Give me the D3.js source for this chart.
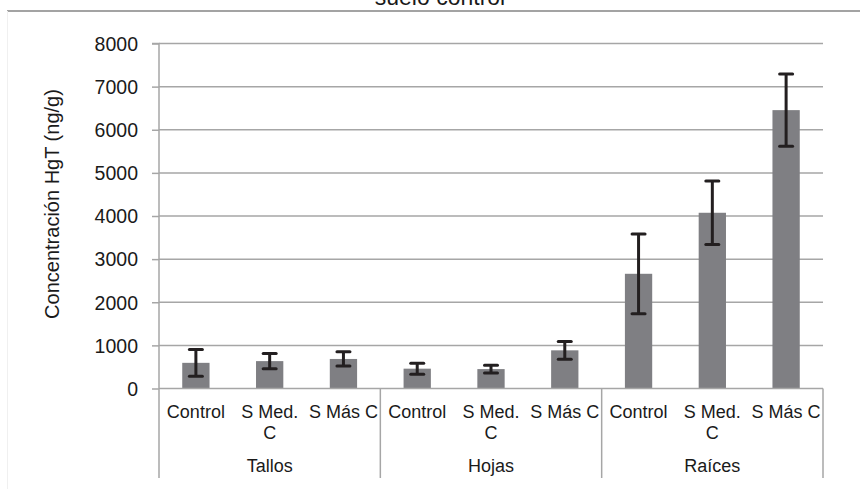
<!DOCTYPE html>
<html><head><meta charset="utf-8">
<script src="https://cdn.jsdelivr.net/npm/d3@7"></script>
<style>html,body{margin:0;padding:0;background:#fff;overflow:hidden}text{font-family:"Liberation Sans",Arial,sans-serif;fill:#1a1a1a}</style>
</head><body>
<svg id="c" width="860" height="489"></svg>
<script>
const title = "suelo control";
const yTitle = "Concentración HgT (ng/g)";
const groups = ["Tallos", "Hojas", "Raíces"];
const treatments = ["Control", "S Med. C", "S Más C"];
const tallosMean = [595, 635, 685];
const tallosErr = [310, 175, 165];
const hojasMean = [460, 450, 885];
const hojasErr = [128, 90, 205];
const raicesMean = [2660, 4075, 6455];
const raicesErr = [925, 735, 835];
const yTicks = [0, 1000, 2000, 3000, 4000, 5000, 6000, 7000, 8000];

const means = [tallosMean, hojasMean, raicesMean];
const errs = [tallosErr, hojasErr, raicesErr];
const data = [];
groups.forEach((g, gi) => treatments.forEach((t, ti) => data.push({key: g + "|" + t, group: g, treat: t, v: means[gi][ti], e: errs[gi][ti]})));

const svg = d3.select("#c");
const L = 159, R = 823, T = 43.5, B = 388.5;
const x = d3.scaleBand().domain(data.map(d => d.key)).range([L, R]).paddingInner(0.63).paddingOuter(0.315);
const xg = d3.scaleBand().domain(groups).range([L, R]);
const y = d3.scaleLinear().domain([0, 8000]).range([B, T]);

// chart border remnants
svg.append("line").attr("x1", 7).attr("x2", 860).attr("y1", 11).attr("y2", 11).attr("stroke", "#a3a3a3").attr("stroke-width", 2);
svg.append("line").attr("x1", 7.5).attr("x2", 7.5).attr("y1", 11).attr("y2", 489).attr("stroke", "#f0f0f0").attr("stroke-width", 1);
svg.append("text").attr("x", 440).attr("y", 4.5).attr("text-anchor", "middle").style("font-size", "23px").text(title);

// gridlines
svg.append("g").selectAll("line").data(yTicks.filter(d => d > 0)).join("line")
  .attr("x1", L).attr("x2", R).attr("y1", d => y(d)).attr("y2", d => y(d))
  .attr("stroke", "#a6a6a6").attr("stroke-width", 1.5);

// y axis
const ya = svg.append("g").attr("transform", `translate(${L},0)`)
  .call(d3.axisLeft(y).tickValues(yTicks).tickSize(7).tickPadding(14).tickFormat(d3.format("d")));
ya.select(".domain").attr("stroke", "#a6a6a6").attr("stroke-width", 1.5).attr("d", `M-7,${T}H0V${B}`);
ya.selectAll(".tick line").attr("stroke", "#a6a6a6").attr("stroke-width", 1.5);
ya.selectAll(".tick text").style("font-size", "19.5px").attr("fill", "#1a1a1a").attr("dy", "0.35em");

svg.append("text").attr("transform", `translate(52,204) rotate(-90)`).attr("text-anchor", "middle")
  .attr("dy", "0.35em").style("font-size", "20px").text(yTitle);

// bars
svg.append("g").selectAll("rect").data(data).join("rect")
  .attr("x", d => x(d.key)).attr("width", x.bandwidth())
  .attr("y", d => y(d.v)).attr("height", d => y(0) - y(d.v))
  .attr("fill", "#7f7f83");

// error bars
const eg = svg.append("g").attr("stroke", "#231f20").attr("stroke-width", 3);
data.forEach(d => {
  const cx = x(d.key) + x.bandwidth() / 2;
  eg.append("line").attr("x1", cx).attr("x2", cx).attr("y1", y(d.v + d.e)).attr("y2", y(d.v - d.e));
  [d.v + d.e, d.v - d.e].forEach(v => eg.append("line").attr("x1", cx - 6.5).attr("x2", cx + 6.5).attr("y1", y(v)).attr("y2", y(v)).attr("stroke-linecap", "round"));
});

// x axis line
svg.append("line").attr("x1", L).attr("x2", R).attr("y1", B).attr("y2", B).attr("stroke", "#a6a6a6").attr("stroke-width", 1.5);
// group separators
const seps = groups.map(g => xg(g)).concat([R]);
svg.append("g").selectAll("line").data(seps).join("line")
  .attr("x1", d => d).attr("x2", d => d).attr("y1", B).attr("y2", 478)
  .attr("stroke", "#a6a6a6").attr("stroke-width", 1.5);

// category labels
const cl = svg.append("g").selectAll("text").data(data).join("text")
  .attr("text-anchor", "middle").style("font-size", "18px");
cl.each(function(d) {
  const cx = x(d.key) + x.bandwidth() / 2;
  const t = d3.select(this);
  const parts = d.treat === "S Med. C" ? ["S Med.", "C"] : [d.treat];
  parts.forEach((p, i) => t.append("tspan").attr("x", cx).attr("y", 418 + i * 20.5).text(p));
});
svg.append("g").selectAll("text").data(groups).join("text")
  .attr("x", g => xg(g) + xg.bandwidth() / 2).attr("y", 472).attr("text-anchor", "middle")
  .style("font-size", "18px").text(g => g);
</script>
</body></html>
